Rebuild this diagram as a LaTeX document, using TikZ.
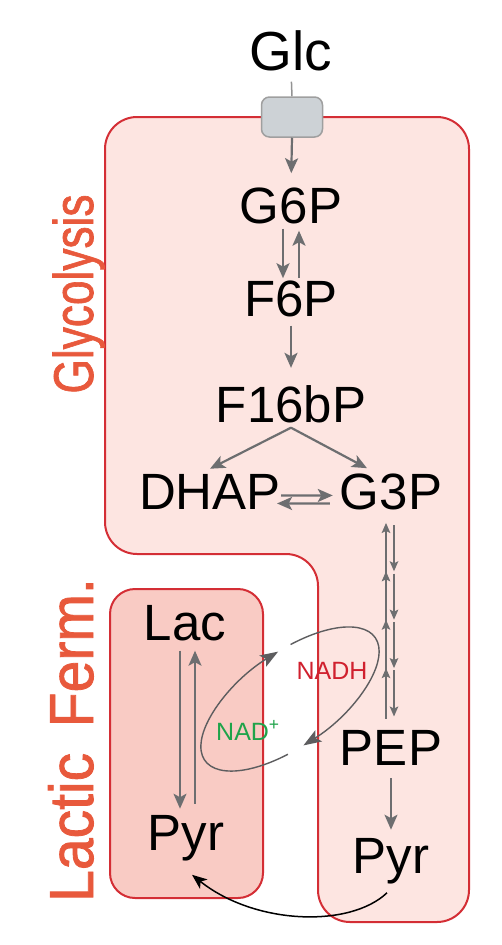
\documentclass[tikz,border=0pt]{standalone}
\usepackage{fontspec}
\setmainfont{Liberation Sans}
\newfontfamily\labelfont[FakeBold=1.4]{Liberation Sans}
\usepackage{graphicx}
\usetikzlibrary{arrows.meta,calc}

\definecolor{glyfill}{HTML}{FDE5E1}
\definecolor{boxred}{HTML}{D42E35}
\definecolor{lacfill}{HTML}{F9CBC4}
\definecolor{fluxgray}{HTML}{6D6E70}
\definecolor{trgray}{HTML}{CDD2D6}
\definecolor{labred}{HTML}{E8593C}
\definecolor{nadhred}{HTML}{D0202E}
\definecolor{nadgreen}{HTML}{1FA34A}

\tikzset{
  metab/.style={anchor=base, inner sep=0pt, font=\fontsize{51}{51}\selectfont},
  flux/.style={draw=fluxgray, line width=2.2pt, -{Stealth[length=15pt,width=13pt,inset=3.5pt]}},
  shuttle/.style={draw=fluxgray, line width=1.7pt, -{Stealth[length=10pt,width=8.5pt,inset=2pt]}},
  redox/.style={draw=fluxgray!85!black, line width=1.4pt, -{Stealth[length=18pt,width=13pt,inset=4pt]}},
  region/.style={fill=glyfill, draw=boxred, line width=2pt, rounded corners=32pt},
  pathlabel/.style={rotate=90, anchor=base, inner sep=0pt, text=labred},
}

\begin{document}
\begin{tikzpicture}[x=1pt, y=-1pt]
    \useasboundingbox (0,0) rectangle (501,945);
    % compartments
    \draw[region] (105,117) -- (469,117) -- (469,922) -- (318,922) -- (318,554) -- (105,554) -- cycle;
    \draw[region, fill=lacfill, rounded corners=25pt] (110,589) rectangle (263,898);
    \node[draw=gray!75, fill=trgray, line width=1.5pt, rounded corners=8pt, minimum width=61pt, minimum height=40pt] (tr) at (292,117) {};

    \node[metab, font=\fontsize{55}{55}\selectfont] (glc) at (291,70) {Glc};
    \node[metab] (g6p) at (291,223) {G6P};
    \node[metab] (f6p) at (291,316) {F6P};
    \node[metab] (fbp) at (291,422) {F16bP};
    \node[metab] (dhap) at (210,509) {DHAP};
    \node[metab] (g3p) at (391,509) {G3P};
    \node[metab] (pep) at (391,765) {PEP};
    \node[metab] (pyr) at (391,873) {Pyr};
    \node[metab] (lac) at (185,640) {Lac};
    \node[metab] (pyrl) at (186,850) {Pyr};

    \draw[draw=gray!85, line width=1.5pt, shorten <=11pt] (glc.south) -- (tr.north);
    \draw[flux, shorten >=14pt] (tr.south) -- (g6p.north);
    \draw[flux, shorten <=5pt, shorten >=2pt] ([xshift=-8pt]g6p.south) -- ([xshift=-8pt]f6p.north);
    \draw[flux, shorten <=2pt, shorten >=7pt] ([xshift=8pt]f6p.north) -- ([xshift=8pt]g6p.south);
    \draw[flux, shorten <=9pt, shorten >=17pt] (f6p.south) -- (fbp.north);
    \draw[flux] ([yshift=-5pt]fbp.south) -- ([yshift=5pt]dhap.north);
    \draw[flux] ([yshift=-5pt]fbp.south) -- ([xshift=-24pt, yshift=5pt]g3p.north);
    \draw[flux, shorten >=7pt] ([yshift=-4pt]dhap.east) -- ([yshift=-4pt]g3p.west);
    \draw[flux, shorten <=10pt, shorten >=-4pt] ([yshift=-12pt]g3p.west) -- ([yshift=-12pt]dhap.east);
    \foreach \a/\b/\c/\d in {0.07/0.28/0.29/0.06, 0.29/0.50/0.51/0.28, 0.51/0.72/0.73/0.50, 0.73/0.94/0.95/0.72} {
      \draw[shuttle] ($(g3p.south)!\a!(pep.north)+(3,0)$) -- ($(g3p.south)!\b!(pep.north)+(3,0)$);
      \draw[shuttle] ($(g3p.south)!\c!(pep.north)+(-5,0)$) -- ($(g3p.south)!\d!(pep.north)+(-5,0)$);
    }
    \draw[flux, shorten <=13pt, shorten >=8pt] (pep.south) -- (pyr.north);
    \draw[flux, line width=1.8pt, shorten <=10pt, shorten >=6pt] ([xshift=-5pt]lac.south) -- ([xshift=-6pt]pyrl.north);
    \draw[flux, line width=1.8pt, shorten <=11pt, shorten >=10pt] ([xshift=9pt]pyrl.north) -- ([xshift=10pt]lac.south);

    % NADH / NAD+ cycle
    \begin{scope}[shift={(290,699)}, rotate=36]
      \draw[redox] (251:105pt and 46pt) arc[start angle=251, end angle=80, x radius=105pt, y radius=46pt];
      \draw[redox] (72:105pt and 46pt) arc[start angle=72, end angle=-99, x radius=105pt, y radius=46pt];
    \end{scope}
    \node[anchor=base, inner sep=0pt, text=nadhred, font=\fontsize{25}{25}\selectfont] (nadh) at (332,679) {NADH};
    \node[anchor=base west, inner sep=0pt, text=nadgreen, font=\fontsize{25}{25}\selectfont] (nad) at (216,740) {NAD\textsuperscript{+}};

    \draw[black, line width=1.5pt, -{Stealth[length=15pt,width=12pt,inset=4pt]}] ([xshift=-4pt, yshift=-9pt]pyr.south) .. controls (350,928) and (255,925) .. ([xshift=6pt, yshift=-14pt]pyrl.south);

    \node[pathlabel, font=\labelfont\fontsize{56}{56}\selectfont] (gly) at (93,294) {\scalebox{0.79}[1]{Glycolysis}};
    \node[pathlabel, font=\labelfont\fontsize{62}{62}\selectfont] (ferm) at (93,740) {\scalebox{0.92}[1]{Lactic\hspace{0.45em}Ferm.}};
\end{tikzpicture}
\end{document}
